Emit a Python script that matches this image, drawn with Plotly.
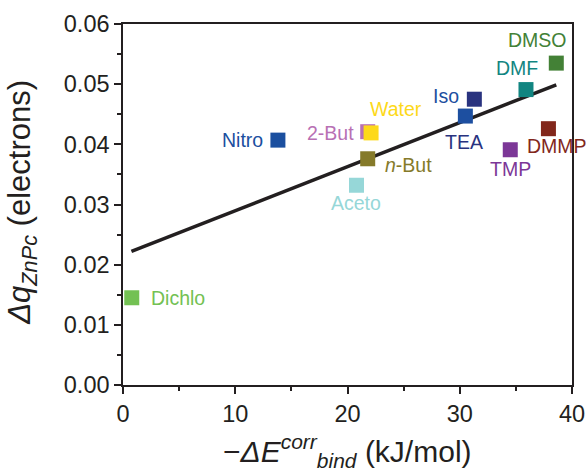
import plotly.graph_objects as go

names = ["Nitro", "Dichlo", "DMSO", "DMF", "Iso", "TEA", "2-But", "Water", "n-But", "Aceto", "TMP", "DMMP"]
x_vals = [13.8, 0.78, 38.6, 35.9, 31.3, 30.5, 21.8, 22.1, 21.8, 20.8, 34.5, 37.9]
y_vals = [0.0407, 0.0145, 0.0535, 0.0491, 0.0475, 0.0447, 0.0421, 0.0419, 0.0376, 0.0332, 0.0391, 0.0426]
marker_colors = ["#1b4f9f", "#73c153", "#438136", "#128581", "#29337f", "#1d4fa0", "#b870b4", "#fdd91a",
                 "#857a2a", "#96d7d8", "#7c3797", "#82271b"]
label_colors = ["#1b4f9f", "#73c153", "#438136", "#128581", "#1d4fa0", "#29337f", "#b870b4", "#fdd91a",
                "#857a2a", "#96d7d8", "#7c3797", "#82271b"]
label_texts = ["Nitro", "Dichlo", "DMSO", "DMF", "Iso", "TEA", "2-But", "Water", "<i>n</i>-But", "Aceto", "TMP", "DMMP"]

fit_x = [0.75, 38.6]
fit_y = [0.0222, 0.0499]

x_title = "\u2212<i>\u0394E</i><sup><i>corr</i></sup><sub><i>bind</i></sub> (kJ/mol)"
y_title = "<i>\u0394q</i><sub><i>ZnPc</i></sub> (electrons)"

# label offsets (px) relative to the marker, and anchors
label_dx = [-13, 17, -19, -9, -13, -1, -12, 25, 15, 0, 0, 9]
label_dy = [0, 0, 23, 22, 3, -26, -1, 24, -6, -18, -19, -17]
label_anchor = ["right", "left", "center", "center", "right", "center", "right", "center", "left", "center", "center", "center"]

FONT = "Liberation Sans, Arial"
INK = "#231f20"

fig = go.Figure()
fig.add_trace(go.Scatter(x=fit_x, y=fit_y, mode="lines",
                         line=dict(color=INK, width=3.5), showlegend=False,
                         hoverinfo="skip"))
fig.add_trace(go.Scatter(x=x_vals, y=y_vals, mode="markers",
                         marker=dict(symbol="square", size=15, color=marker_colors,
                                     line=dict(width=0)),
                         cliponaxis=False, showlegend=False, text=names))

for i in range(len(names)):
    fig.add_annotation(x=x_vals[i], y=y_vals[i], text=label_texts[i], showarrow=False,
                       xanchor=label_anchor[i], yanchor="middle",
                       xshift=label_dx[i], yshift=label_dy[i],
                       font=dict(family=FONT, size=19.5, color=label_colors[i]))

# axis titles
fig.add_annotation(xref="paper", yref="paper", x=0.5, y=0, yshift=-66,
                   xanchor="center", yanchor="middle", showarrow=False, text=x_title,
                   font=dict(family=FONT, size=30, color=INK))
fig.add_annotation(xref="paper", yref="paper", x=0, y=0.505, xshift=-101,
                   xanchor="center", yanchor="middle", showarrow=False, text=y_title,
                   textangle=-90, font=dict(family=FONT, size=31, color=INK))

axis_common = dict(showline=True, linecolor=INK, linewidth=1.5, mirror=True,
                   ticks="outside", ticklen=7, tickwidth=1.5, tickcolor=INK,
                   showgrid=False, zeroline=False, automargin=False,
                   tickfont=dict(family=FONT, size=23.5, color=INK))

fig.update_xaxes(range=[0, 40], dtick=10, tick0=0,
                 minor=dict(dtick=5, ticks="outside", ticklen=4, tickcolor=INK, tickwidth=1.5),
                 **axis_common)
fig.update_yaxes(range=[0, 0.06], dtick=0.01, tick0=0, tickformat=".2f",
                 minor=dict(dtick=0.005, ticks="outside", ticklen=4, tickcolor=INK, tickwidth=1.5),
                 **axis_common)

fig.update_layout(width=586, height=471, margin=dict(l=123, r=14, t=24, b=86),
                  plot_bgcolor="white", paper_bgcolor="white")

fig.write_html("out.html")
